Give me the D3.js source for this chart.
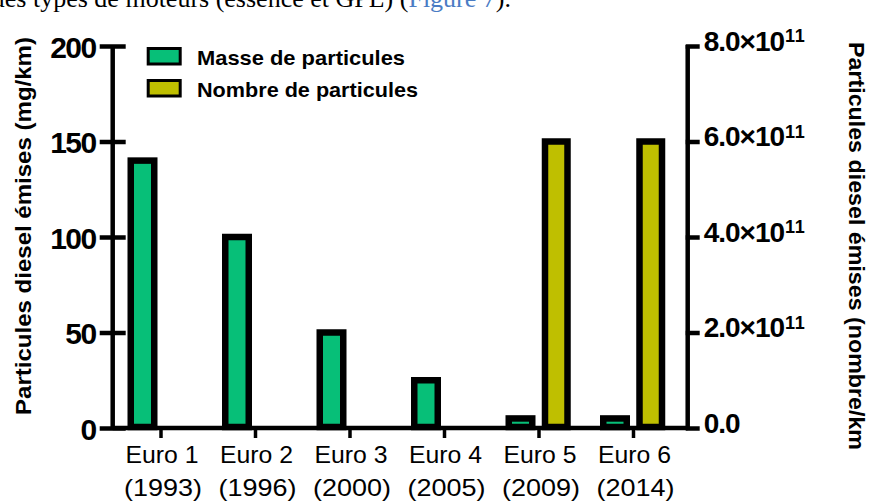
<!DOCTYPE html>
<html>
<head>
<meta charset="utf-8">
<script src="https://cdn.jsdelivr.net/npm/d3@7"></script>
<style>
    body { margin: 0; background: #fff; }
    svg { display: block; }
</style>
</head>
<body>
<svg id="o-chart"></svg>
<script>

// chart data
let categories = ["Euro 1", "Euro 2", "Euro 3", "Euro 4", "Euro 5", "Euro 6"];
let years = ["(1993)", "(1996)", "(2000)", "(2005)", "(2009)", "(2014)"];
let masse = [140, 100, 50, 25, 5, 5];
let nombre = [null, null, null, null, 6e11, 6e11];
let seriesNames = ["Masse de particules", "Nombre de particules"];
let seriesColors = ["#07bf78", "#bfbf00"];
let leftTicks = [0, 50, 100, 150, 200];
let rightTicks = [0, 2e11, 4e11, 6e11, 8e11];
let leftTitle = "Particules diesel émises (mg/km)";
let rightTitle = "Particules diesel émises (nombre/km";

const FONT = "'Liberation Sans', Arial, sans-serif";

function drawChart() {
    let svgWidth = 873, svgHeight = 501;
    let svg = d3.select("#o-chart")
        .attr("width", svgWidth)
        .attr("height", svgHeight);

    // bit of the document text above the figure (cut off in the original too)
    let caption = svg.append("text")
        .attr("x", 511)
        .attr("y", 7)
        .attr("text-anchor", "end")
        .attr("font-family", "'Liberation Serif', 'Times New Roman', serif")
        .attr("font-size", 26)
        .attr("fill", "#000");
    caption.append("tspan").text("ues types de moteurs (essence et GPL) (");
    caption.append("tspan").attr("fill", "#4a7cc4").text("Figure 7");
    caption.append("tspan").text(").");

    let top = 46, bottom = 428;
    let leftX = 112.7, rightX = 687.7;

    let x = d3.scalePoint()
        .domain(categories)
        .range([160.5, 633]);
    let yLeft = d3.scaleLinear()
        .domain([0, 200])
        .range([bottom, top]);
    let yRight = d3.scaleLinear()
        .domain([0, 8e11])
        .range([bottom, top]);

    let barW = 23.5, stroke = 6.5;

    // mass bars (left axis)
    svg.append("g").selectAll("rect")
        .data(masse.map(function(v, i) { return {cat: categories[i], v: v}; })
            .filter(function(d) { return d.v != null; }))
        .join("rect")
        .attr("x", function(d) { return x(d.cat) - 29.75; })
        .attr("y", function(d) { return yLeft(d.v); })
        .attr("width", barW)
        .attr("height", function(d) { return bottom - 1 - yLeft(d.v); })
        .attr("fill", seriesColors[0])
        .attr("stroke", "#000")
        .attr("stroke-width", stroke);

    // number bars (right axis)
    svg.append("g").selectAll("rect")
        .data(nombre.map(function(v, i) { return {cat: categories[i], v: v}; })
            .filter(function(d) { return d.v != null; }))
        .join("rect")
        .attr("x", function(d) { return x(d.cat) + 6.5; })
        .attr("y", function(d) { return yRight(d.v); })
        .attr("width", 22.5)
        .attr("height", function(d) { return bottom - 1 - yRight(d.v); })
        .attr("fill", seriesColors[1])
        .attr("stroke", "#000")
        .attr("stroke-width", stroke);

    // left axis, ticks cross the line
    let gl = svg.append("g")
        .attr("transform", "translate(" + leftX + ",0)")
        .call(d3.axisLeft(yLeft).tickValues(leftTicks).tickSize(13).tickPadding(4));
    gl.select(".domain").remove();
    gl.selectAll(".tick line")
        .attr("x1", 13)
        .attr("stroke-width", 4.5);
    gl.selectAll(".tick text")
        .attr("font-family", FONT)
        .attr("font-size", 30)
        .attr("font-weight", "bold")
        .attr("letter-spacing", -1.5)
        .attr("dy", "0.38em");
    svg.append("line")
        .attr("x1", leftX).attr("x2", leftX)
        .attr("y1", top - 1).attr("y2", bottom)
        .attr("stroke", "#000")
        .attr("stroke-width", 4.5);

    // right axis
    let gr = svg.append("g")
        .attr("transform", "translate(" + rightX + ",0)")
        .call(d3.axisRight(yRight).tickValues(rightTicks).tickSize(12).tickPadding(4));
    gr.select(".domain").remove();
    gr.selectAll(".tick line")
        .attr("x1", -2)
        .attr("stroke-width", 4.5);
    gr.selectAll(".tick text").each(function(v) {
        let t = d3.select(this).text("")
            .attr("font-family", FONT)
            .attr("font-weight", "bold")
            .attr("dy", "0.44em");
        if (v === 0) {
            t.append("tspan").attr("font-size", 28).attr("letter-spacing", -1).text("0.0");
        } else {
            let ex = Math.floor(Math.log10(v));
            t.append("tspan")
                .attr("font-size", 28)
                .attr("letter-spacing", -1)
                .text((v / Math.pow(10, ex)).toFixed(1) + "×10");
            t.append("tspan")
                .attr("font-size", 18)
                .attr("dy", -8.5)
                .attr("dx", 1)
                .attr("letter-spacing", 0.5)
                .text(ex);
        }
    });
    svg.append("line")
        .attr("x1", rightX).attr("x2", rightX)
        .attr("y1", top - 1).attr("y2", bottom)
        .attr("stroke", "#000")
        .attr("stroke-width", 4.5);

    // x axis
    svg.append("line")
        .attr("x1", leftX).attr("x2", rightX)
        .attr("y1", bottom).attr("y2", bottom)
        .attr("stroke", "#000")
        .attr("stroke-width", 4.5);
    let gx = svg.append("g")
        .attr("transform", "translate(0," + bottom + ")")
        .call(d3.axisBottom(x).tickSize(10).tickFormat(""));
    gx.select(".domain").remove();
    gx.selectAll(".tick line").attr("stroke-width", 3.5);
    gx.selectAll(".tick").each(function(c, i) {
        let g = d3.select(this);
        g.append("text")
            .attr("y", 35)
            .attr("x", 1)
            .attr("text-anchor", "middle")
            .attr("font-family", FONT)
            .attr("font-size", 24)
            .attr("fill", "#000")
            .attr("textLength", 73)
            .attr("lengthAdjust", "spacingAndGlyphs")
            .text(c);
        g.append("text")
            .attr("y", 68)
            .attr("x", 2)
            .attr("text-anchor", "middle")
            .attr("font-family", FONT)
            .attr("font-size", 24)
            .attr("fill", "#000")
            .attr("textLength", 78)
            .attr("lengthAdjust", "spacingAndGlyphs")
            .text(years[i]);
    });

    // axis titles
    svg.append("text")
        .attr("transform", "translate(31,226) rotate(-90)")
        .attr("text-anchor", "middle")
        .attr("font-family", FONT)
        .attr("font-size", 22)
        .attr("font-weight", "bold")
        .attr("textLength", 378)
        .attr("lengthAdjust", "spacingAndGlyphs")
        .text(leftTitle);
    svg.append("text")
        .attr("transform", "translate(849,246) rotate(90)")
        .attr("text-anchor", "middle")
        .attr("font-family", FONT)
        .attr("font-size", 22)
        .attr("font-weight", "bold")
        .attr("textLength", 408)
        .attr("lengthAdjust", "spacingAndGlyphs")
        .text(rightTitle);

    // legend
    let legend = svg.append("g");
    let legendLen = [208, 221];
    seriesNames.forEach(function(name, i) {
        let ly = 48.5 + i * 32;
        legend.append("rect")
            .attr("x", 148.2)
            .attr("y", ly)
            .attr("width", 32)
            .attr("height", 15.5)
            .attr("fill", seriesColors[i])
            .attr("stroke", "#000")
            .attr("stroke-width", 3);
        legend.append("text")
            .attr("x", 197)
            .attr("y", ly + 16.5)
            .attr("font-family", FONT)
            .attr("font-size", 21)
            .attr("font-weight", "bold")
            .attr("textLength", legendLen[i])
            .attr("lengthAdjust", "spacingAndGlyphs")
            .text(name);
    });
}

drawChart();
</script>
</body>
</html>
